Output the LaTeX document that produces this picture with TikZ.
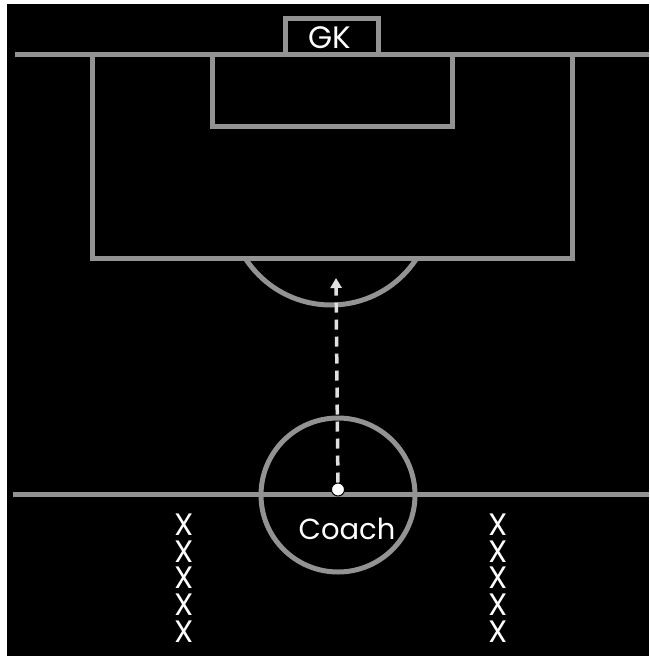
\documentclass[tikz,border=0pt]{standalone}
\usepackage{fontspec}
\setmainfont{Poppins}
\usetikzlibrary{arrows.meta}
\definecolor{pitchline}{HTML}{939393}
\definecolor{runline}{HTML}{E0E0E0}

\begin{document}
\begin{tikzpicture}[
    x=1pt, y=-1pt,
    >=Latex,
    mark line/.style={draw=pitchline, line width=5pt},
    label text/.style={text=white, font=\fontsize{31}{31}\selectfont, inner sep=0pt, anchor=base},
    player/.style={text=white, font=\fontsize{31}{31}\selectfont, inner sep=0pt, anchor=base, text height=22pt, text depth=0pt},
    run/.style={draw=runline, line width=3.5pt, dash pattern=on 10pt off 7pt, -{Triangle[length=10pt,width=11pt]}},
    spot/.style={circle, draw=black, fill=white, line width=1pt, minimum size=13pt, inner sep=0pt}
]

\useasboundingbox[fill=white] (0,0) rectangle (649,656);
\fill[black] (7,4) rectangle (649,656);

% goal line and halfway line
\draw[mark line] (15,54.5) -- (649,54.5);
\draw[mark line] (13,494.5) -- (649,494.5);

% penalty box, goal box, keeper box
\draw[mark line] (92,54.5) -- (92,258) -- (572,258) -- (572,54.5);
\draw[mark line] (212,54.5) -- (212,126.5) -- (452,126.5) -- (452,54.5);
\draw[mark line] (285,54.5) -- (285,18) -- (378,18) -- (378,54.5);
\node[label text] (gk) at (329.5,48) {GK};

% penalty arc
\begin{scope}
  \clip (0,258) rectangle (649,656);
  \draw[mark line] (331,203) circle[radius=102pt];
\end{scope}

% centre circle
\draw[mark line] (338,495) circle[radius=77pt];

% coach and run
\node[spot] (coachspot) at (338,489.5) {};
\coordinate (runend) at (336,278);
\draw[run] (coachspot) -- (runend);
\node[label text, font=\fontsize{29}{29}\selectfont] (coach) at (347,539) {Coach};

% players
\foreach \i in {0,...,4} {
  \node[player] (left\i) at (184,535.5+26.7*\i) {X};
  \node[player] (right\i) at (498,535.5+26.7*\i) {X};
}

\end{tikzpicture}
\end{document}
